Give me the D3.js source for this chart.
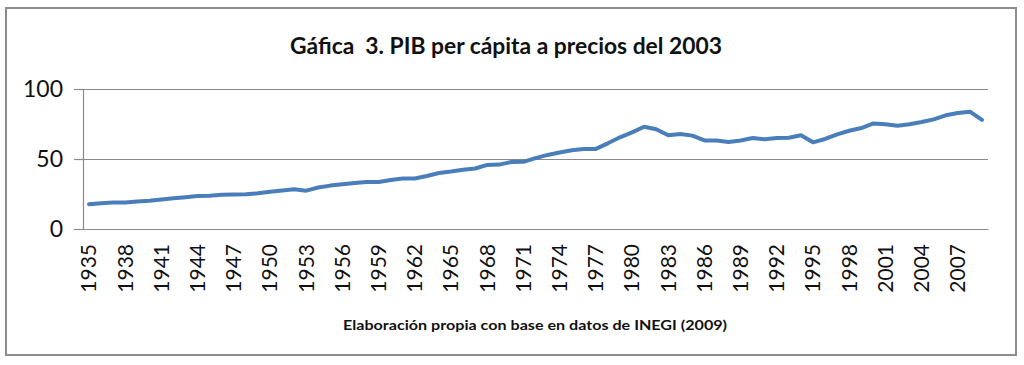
<!DOCTYPE html>
<html>
<head>
<meta charset="utf-8">
<script src="https://cdn.jsdelivr.net/npm/d3@7"></script>
<style>
body { margin: 0; background: #fff; }
#vis { width: 1024px; height: 365px; }
</style>
</head>
<body>
<div id="vis"></div>
<script>
// categories (years) and PIB per capita values
var years = [1935, 1936, 1937, 1938, 1939, 1940, 1941, 1942, 1943, 1944,
  1945, 1946, 1947, 1948, 1949, 1950, 1951, 1952, 1953, 1954,
  1955, 1956, 1957, 1958, 1959, 1960, 1961, 1962, 1963, 1964,
  1965, 1966, 1967, 1968, 1969, 1970, 1971, 1972, 1973, 1974,
  1975, 1976, 1977, 1978, 1979, 1980, 1981, 1982, 1983, 1984,
  1985, 1986, 1987, 1988, 1989, 1990, 1991, 1992, 1993, 1994,
  1995, 1996, 1997, 1998, 1999, 2000, 2001, 2002, 2003, 2004,
  2005, 2006, 2007, 2008, 2009];

var pib = [17.6, 18.4, 18.9, 19.0, 19.7, 20.2, 21.0, 21.9, 22.7, 23.5,
  23.8, 24.4, 24.7, 24.8, 25.5, 26.6, 27.5, 28.4, 27.4, 29.6,
  31.0, 32.0, 32.8, 33.5, 33.6, 35.0, 36.0, 36.1, 37.9, 40.0,
  41.0, 42.3, 43.2, 45.8, 46.0, 47.9, 48.0, 50.6, 52.9, 54.7,
  56.3, 57.1, 57.2, 61.2, 65.5, 69.0, 73.0, 71.3, 66.9, 67.8,
  66.7, 63.3, 63.2, 62.2, 63.2, 65.0, 64.1, 65.0, 65.2, 67.0,
  61.9, 64.3, 67.6, 70.2, 72.1, 75.4, 74.8, 73.8, 74.8, 76.4,
  78.3, 81.2, 82.9, 83.8, 77.9];

// tick labels
var yTicks = [0, 50, 100];
var xTicks = [1935, 1938, 1941, 1944, 1947, 1950, 1953, 1956, 1959, 1962,
  1965, 1968, 1971, 1974, 1977, 1980, 1983, 1986, 1989, 1992,
  1995, 1998, 2001, 2004, 2007];

var titleText = "Gáfica  3. PIB per cápita a precios del 2003";
var sourceText = "Elaboración propia con base en datos de INEGI (2009)";

var width = 1024;
var height = 365;
var margin = {left: 83, right: 36, top: 89, bottom: 136};

var svg, x, y;

function init() {
  svg = d3.select("#vis")
    .append("svg")
    .attr("width", width)
    .attr("height", height)
    .style("font-family", "Lato, 'Open Sans', sans-serif");

  // outer frame
  svg.append("rect")
    .attr("x", 6)
    .attr("y", 8)
    .attr("width", 1010)
    .attr("height", 347)
    .attr("fill", "#fff")
    .attr("stroke", "#8c8c8c")
    .attr("stroke-width", 2);

  x = d3.scaleBand()
    .domain(years)
    .range([margin.left, width - margin.right]);

  y = d3.scaleLinear()
    .domain([0, 100])
    .range([height - margin.bottom, margin.top]);

  // gridlines
  svg.append("g")
    .attr("class", "grid")
    .attr("transform", "translate(" + margin.left + ",0)")
    .call(d3.axisLeft(y).tickValues(yTicks).tickSize(-(width - margin.right - margin.left)).tickFormat(""))
    .call(function(g) {
      g.select(".domain").remove();
      g.selectAll("line").attr("stroke", "#8a8a8a").attr("stroke-width", 1.2);
    });

  // y axis
  svg.append("g")
    .attr("transform", "translate(" + margin.left + ",0)")
    .call(d3.axisLeft(y).tickValues(yTicks).tickSize(9).tickPadding(11))
    .call(function(g) {
      g.select(".domain").attr("stroke", "#8a8a8a").attr("stroke-width", 1.2);
      g.selectAll("line").attr("stroke", "#8a8a8a").attr("stroke-width", 1.2);
      g.selectAll("text")
        .attr("font-size", 23)
        .attr("font-family", "Lato, sans-serif")
        .attr("fill", "#111");
    });

  // x axis
  svg.append("g")
    .attr("transform", "translate(0," + (height - margin.bottom) + ")")
    .call(d3.axisBottom(x).tickValues(xTicks).tickSize(0))
    .call(function(g) {
      g.select(".domain").attr("stroke", "#8a8a8a").attr("stroke-width", 1.2);
      g.selectAll("text")
        .attr("font-size", 21)
        .attr("font-family", "Lato, sans-serif")
        .attr("fill", "#111")
        .attr("transform", "rotate(-90)")
        .attr("text-anchor", "end")
        .attr("x", -15)
        .attr("y", 0)
        .attr("dy", "0.35em");
    });

  // the series
  var line = d3.line()
    .x(function(d, i) { return x(years[i]) + x.bandwidth() / 2; })
    .y(function(d) { return y(d); });

  svg.append("path")
    .datum(pib)
    .attr("d", line)
    .attr("fill", "none")
    .attr("stroke", "#4a7ebb")
    .attr("stroke-width", 4)
    .attr("stroke-linejoin", "round")
    .attr("stroke-linecap", "round");

  // title
  svg.append("text")
    .attr("x", 506)
    .attr("y", 54)
    .attr("text-anchor", "middle")
    .attr("font-size", 22)
    .attr("font-weight", "bold")
    .attr("fill", "#111")
    .attr("textLength", 432)
    .attr("lengthAdjust", "spacingAndGlyphs")
    .style("white-space", "pre")
    .text(titleText);

  // source note
  svg.append("text")
    .attr("x", 535)
    .attr("y", 330)
    .attr("text-anchor", "middle")
    .attr("font-size", 14)
    .attr("font-weight", "bold")
    .attr("fill", "#111")
    .attr("textLength", 384)
    .attr("lengthAdjust", "spacingAndGlyphs")
    .text(sourceText);
}

init();
</script>
</body>
</html>
